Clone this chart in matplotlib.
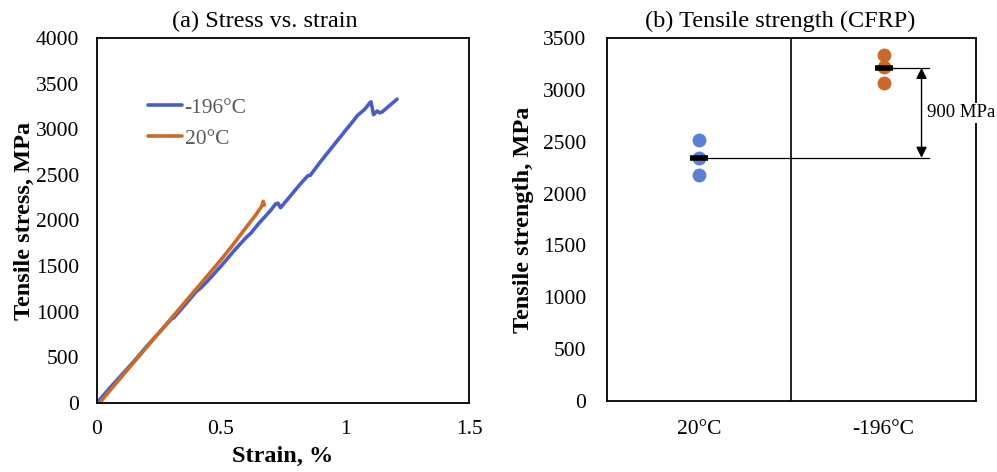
import matplotlib
matplotlib.use("Agg")
import matplotlib.pyplot as plt
import numpy as np

plt.rcParams['font.family'] = ['Liberation Serif', 'DejaVu Serif']

# (a) stress-strain curves
strain_cryo = [0.0, 0.05, 0.10, 0.15, 0.20, 0.25, 0.30, 0.31, 0.35, 0.40, 0.42, 0.45, 0.50, 0.55, 0.60,
               0.62, 0.65, 0.68, 0.70, 0.72, 0.73, 0.74, 0.78, 0.82, 0.85, 0.86, 0.90, 0.95, 1.00,
               1.03, 1.05, 1.08, 1.10, 1.105, 1.115, 1.13, 1.14, 1.15, 1.18, 1.21]
stress_cryo = [0, 160, 310, 460, 620, 770, 920, 935, 1060, 1220, 1265, 1350, 1500, 1660, 1810,
               1860, 1960, 2050, 2110, 2180, 2190, 2140, 2270, 2400, 2490, 2495, 2640, 2810, 2980,
               3080, 3150, 3220, 3290, 3300, 3160, 3200, 3180, 3190, 3260, 3330]
strain_rt = [0.01, 0.05, 0.10, 0.15, 0.20, 0.25, 0.30, 0.35, 0.40, 0.45, 0.50, 0.55, 0.60, 0.64, 0.665, 0.67, 0.675]
stress_rt = [0, 130, 290, 450, 610, 770, 930, 1090, 1250, 1410, 1570, 1740, 1920, 2060, 2160, 2210, 2170]

# (b) tensile strength
cats = ['20°C', '-196°C']
strength_rt = [2520, 2345, 2180]
strength_cryo = [3340, 3220, 3070]
mean_rt = 2345
mean_cryo = 3212
diff_label = '900 MPa'

blue_line = '#4A5CC8'
orange_line = '#CC6A28'
blue_dot = '#5B80D2'
orange_dot = '#C8692A'

fig = plt.figure(figsize=(9.97, 4.72), dpi=100)
ax1 = fig.add_axes([0.0973, 0.1462, 0.3731, 0.7733])
ax2 = fig.add_axes([0.6088, 0.1504, 0.3701, 0.7691])

fs = 15.5
tfs = 17.5
lfs = 17.5
# ---- (a)
ax1.plot(strain_cryo, stress_cryo, color=blue_line, lw=2.6, label='-196°C', solid_capstyle='round')
ax1.plot(strain_rt, stress_rt, color=orange_line, lw=2.6, label='20°C', solid_capstyle='round')
ax1.set_xlim(0, 1.5)
ax1.set_ylim(0, 4000)
ax1.set_xticks([0, 0.5, 1, 1.5])
ax1.set_xticklabels(['0', '0.5', '1', '1.5'])
ax1.set_yticks(np.arange(0, 4001, 500))
ax1.tick_params(length=0, labelsize=fs, pad=13, colors='black')
ax1.tick_params(axis='x', pad=12)
ax1.set_title('(a) Stress vs. strain', fontsize=tfs, pad=8, x=0.45)
ax1.set_xlabel('Strain, %', fontsize=lfs, fontweight='bold', labelpad=5)
ax1.set_ylabel('Tensile stress, MPa', fontsize=lfs, fontweight='bold', labelpad=0.5)
leg = ax1.legend(loc='upper left', bbox_to_anchor=(0.108, 0.866), frameon=False, fontsize=fs,
                 handlelength=1.6, handletextpad=0.1, labelspacing=0.5, borderpad=0)
for t in leg.get_texts():
    t.set_color('#595959')

# ---- (b)
xs = [0.5, 1.5]
ax2.plot([xs[0]] * len(strength_rt), strength_rt, 'o', color=blue_dot, ms=10, mec='none', zorder=3)
ax2.plot([xs[1]] * len(strength_cryo), strength_cryo, 'o', color=orange_dot, ms=10, mec='none', zorder=3)
ax2.plot([xs[0]], [mean_rt], marker='_', color='black', ms=13, mew=4, zorder=4)
ax2.plot([xs[1]], [mean_cryo], marker='_', color='black', ms=13, mew=4, zorder=4)
ax2.axvline(1.0, color='black', lw=1.2)
ax2.plot([xs[0], 1.745], [mean_rt, mean_rt], color='black', lw=0.9, zorder=2)
ax2.plot([xs[1], 1.745], [mean_cryo, mean_cryo], color='black', lw=0.9, zorder=2)
ax2.annotate('', xy=(1.705, mean_cryo), xytext=(1.705, mean_rt),
             arrowprops=dict(arrowstyle='<|-|>', color='black', lw=1, mutation_scale=16,
                             shrinkA=0, shrinkB=0))
ax2.text(1.735, (mean_rt + mean_cryo) / 2, diff_label, fontsize=13.5, va='center', ha='left',
         bbox=dict(facecolor='white', edgecolor='none', pad=1), zorder=5, clip_on=False)
ax2.set_xlim(0, 2)
ax2.set_ylim(0, 3500)
ax2.set_xticks(xs)
ax2.set_xticklabels(cats)
ax2.set_yticks(np.arange(0, 3501, 500))
ax2.tick_params(length=0, labelsize=fs, pad=15, colors='black')
ax2.tick_params(axis='x', pad=14)
ax2.set_title('(b) Tensile strength (CFRP)', fontsize=tfs, pad=8, x=0.469)
ax2.set_ylabel('Tensile strength, MPa', fontsize=lfs, fontweight='bold', labelpad=6.5)

for ax in (ax1, ax2):
    for s in ax.spines.values():
        s.set_linewidth(1.3)
        s.set_color('black')
ax2.spines['right'].set_zorder(1)

fig.savefig('out.png', dpi=100)
